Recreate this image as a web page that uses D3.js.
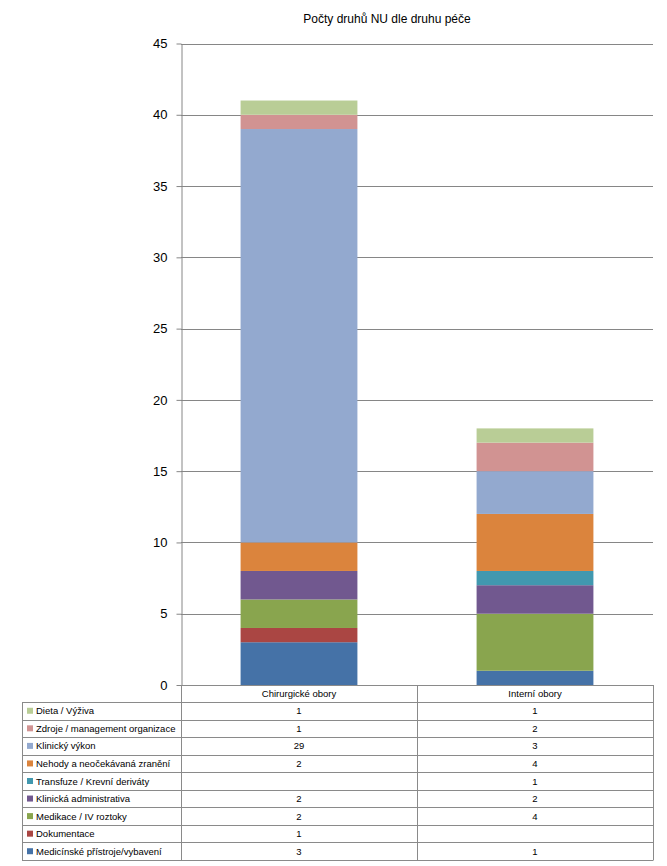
<!DOCTYPE html>
<html>
<head>
<meta charset="utf-8">
<script src="https://cdn.jsdelivr.net/npm/d3@7"></script>
<style>
  body { margin: 0; background: #fff; }
  text { font-family: 'Liberation Sans', Arial, sans-serif; fill: #000; }
</style>
</head>
<body>
<div id="chart"></div>
<script>
// Data
const categories = ['Chirurgické obory', 'Interní obory'];
const seriesNames = [
  'Medicínské přístroje/vybavení',
  'Dokumentace',
  'Medikace / IV roztoky',
  'Klinická administrativa',
  'Transfuze / Krevní deriváty',
  'Nehody a neočekávaná zranění',
  'Klinický výkon',
  'Zdroje / management organizace',
  'Dieta / Výživa'
];
// values per series: [Chirurgické, Interní], null = empty cell
const medPristroje = [3, 1];
const dokumentace = [1, null];
const medikace = [2, 4];
const klinAdmin = [2, 2];
const transfuze = [null, 1];
const nehody = [2, 4];
const klinVykon = [29, 3];
const zdroje = [1, 2];
const dieta = [1, 1];
const seriesValues = [medPristroje, dokumentace, medikace, klinAdmin, transfuze, nehody, klinVykon, zdroje, dieta];
const colors = ['#4572A7', '#AA4643', '#89A54E', '#71588F', '#4198AF', '#DB843D', '#93A9CF', '#D19392', '#B9CD96'];
const yTicks = [0, 5, 10, 15, 20, 25, 30, 35, 40, 45];

// Base positioning
const W = 667, H = 866;
const plot = { left: 181, right: 653, top: 43.5, bottom: 685 };
const table = { left: 22, headerBottom: 702, bottom: 860 };

const svg = d3.select('#chart')
  .append('svg')
  .attr('width', W)
  .attr('height', H);

// title
svg.append('text')
  .attr('x', 387)
  .attr('y', 23)
  .attr('text-anchor', 'middle')
  .style('font-size', '12px')
  .text('Počty druhů NU dle druhu péče');

// scales
const x = d3.scaleBand()
  .domain(categories)
  .range([plot.left, plot.right]);
const y = d3.scaleLinear()
  .domain([0, 45])
  .range([plot.bottom, plot.top]);

// gridlines
svg.append('g')
  .selectAll('line')
  .data(yTicks.filter(d => d > 0))
  .join('line')
  .attr('x1', plot.left)
  .attr('x2', plot.right)
  .attr('y1', d => Math.round(y(d)) + 0.5)
  .attr('y2', d => Math.round(y(d)) + 0.5)
  .attr('stroke', '#868686')
  .attr('stroke-width', 1);

// stacked bars
const rows = categories.map((c, ci) => {
  const r = { cat: c };
  seriesNames.forEach((s, si) => { r[s] = seriesValues[si][ci] || 0; });
  return r;
});
const stacked = d3.stack().keys(seriesNames)(rows);
const bw = x.bandwidth() * 0.495;

svg.append('g')
  .selectAll('g')
  .data(stacked)
  .join('g')
  .attr('fill', (d, i) => colors[i])
  .selectAll('rect')
  .data(d => d)
  .join('rect')
  .attr('x', d => x(d.data.cat) + (x.bandwidth() - bw) / 2)
  .attr('width', bw)
  .attr('y', d => y(d[1]))
  .attr('height', d => y(d[0]) - y(d[1]));

// Y axis
const yAxis = svg.append('g')
  .attr('transform', 'translate(' + (plot.left + 0.5) + ',0)')
  .call(d3.axisLeft(y).tickValues(yTicks).tickSize(5).tickPadding(9).tickSizeOuter(0));
yAxis.select('.domain').attr('stroke', '#868686');
yAxis.selectAll('.tick line').attr('stroke', '#868686');
yAxis.selectAll('.tick text')
  .style('font-size', '13px')
  .style('font-family', "'Liberation Sans', Arial, sans-serif")
  .attr('fill', '#000');

// Data table
const rowOrder = seriesNames.slice().reverse();
const rowY = d3.scaleBand()
  .domain(rowOrder)
  .range([table.headerBottom, table.bottom]);

const tbl = svg.append('g');
const lineColor = '#8a8a8a';

// horizontal lines
tbl.selectAll('line.h')
  .data(rowOrder)
  .join('line')
  .attr('class', 'h')
  .attr('x1', table.left)
  .attr('x2', plot.right)
  .attr('y1', d => Math.round(rowY(d)) + 0.5)
  .attr('y2', d => Math.round(rowY(d)) + 0.5)
  .attr('stroke', lineColor);
tbl.append('line')
  .attr('x1', table.left).attr('x2', plot.right)
  .attr('y1', table.bottom + 0.5).attr('y2', table.bottom + 0.5)
  .attr('stroke', lineColor);
tbl.append('line')
  .attr('x1', plot.left).attr('x2', plot.right)
  .attr('y1', plot.bottom + 0.5).attr('y2', plot.bottom + 0.5)
  .attr('stroke', lineColor);
// vertical lines
tbl.append('line')
  .attr('x1', table.left + 0.5).attr('x2', table.left + 0.5)
  .attr('y1', table.headerBottom).attr('y2', table.bottom + 0.5)
  .attr('stroke', lineColor);
[plot.left, plot.left + x.bandwidth(), plot.right].forEach(px => {
  tbl.append('line')
    .attr('x1', Math.round(px) + 0.5).attr('x2', Math.round(px) + 0.5)
    .attr('y1', plot.bottom).attr('y2', table.bottom + 0.5)
    .attr('stroke', lineColor);
});

// category headers
tbl.selectAll('text.cat')
  .data(categories)
  .join('text')
  .attr('class', 'cat')
  .attr('x', d => x(d) + x.bandwidth() / 2)
  .attr('y', (plot.bottom + table.headerBottom) / 2 + 3.5)
  .attr('text-anchor', 'middle')
  .style('font-size', '9.5px')
  .text(d => d);

// legend keys + row labels
tbl.selectAll('rect.key')
  .data(rowOrder)
  .join('rect')
  .attr('class', 'key')
  .attr('x', 27)
  .attr('y', d => rowY(d) + rowY.bandwidth() / 2 - 3)
  .attr('width', 6)
  .attr('height', 6)
  .attr('fill', d => colors[seriesNames.indexOf(d)]);
tbl.selectAll('text.lbl')
  .data(rowOrder)
  .join('text')
  .attr('class', 'lbl')
  .attr('x', 36)
  .attr('y', d => rowY(d) + rowY.bandwidth() / 2 + 3.5)
  .style('font-size', '9.5px')
  .text(d => d);

// cell values
rowOrder.forEach(s => {
  const vals = seriesValues[seriesNames.indexOf(s)];
  categories.forEach((c, ci) => {
    if (vals[ci] == null) return;
    tbl.append('text')
      .attr('x', x(c) + x.bandwidth() / 2)
      .attr('y', rowY(s) + rowY.bandwidth() / 2 + 3.5)
      .attr('text-anchor', 'middle')
      .style('font-size', '9.5px')
      .text(vals[ci]);
  });
});
</script>
</body>
</html>
